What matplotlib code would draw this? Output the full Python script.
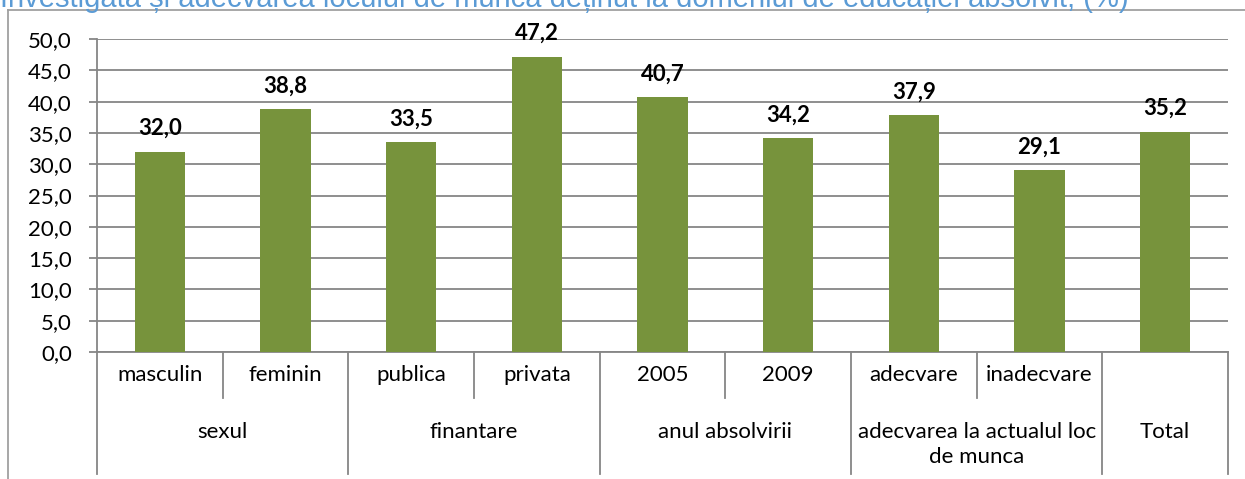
import matplotlib.pyplot as plt
from matplotlib.lines import Line2D

plt.rcParams['font.family'] = ['Lato', 'DejaVu Sans']

categories = ["masculin", "feminin", "publica", "privata", "2005", "2009",
              "adecvare", "inadecvare", ""]
groups = ["sexul", "finantare", "anul absolvirii",
          "adecvarea la actualul loc\nde munca", "Total"]
group_sizes = [2, 2, 2, 2, 1]
values = [32.0, 38.8, 33.5, 47.2, 40.7, 34.2, 37.9, 29.1, 35.2]

title = "Investigata și adecvarea locului de munca deținut la domeniul de educației absolvit, (%)"

GRID = "#868686"
BAR = "#77933C"
FS = 16

fig = plt.figure(figsize=(12.45, 4.79), dpi=100)
ax = fig.add_axes([97 / 1245, 1 - 352 / 479, (1228 - 97) / 1245, (352 - 39) / 479])

x = list(range(len(values)))
bars = ax.bar(x, values, width=0.4, color=BAR, zorder=3)
for b, v in zip(bars, values):
    ax.annotate(f"{v:.1f}".replace(".", ","), (b.get_x() + b.get_width() / 2, v),
                xytext=(0, 9), textcoords="offset points", ha="center", va="bottom",
                fontsize=FS, fontweight="bold", color="black")

ax.set_xlim(-0.5, len(values) - 0.5)
ax.set_ylim(0, 50)
ax.set_yticks([i * 5 for i in range(11)])
ax.set_yticklabels([f"{i * 5:.1f}".replace(".", ",") for i in range(11)], fontsize=FS)
ax.yaxis.grid(True, color=GRID, linewidth=1.3, zorder=0)
ax.tick_params(axis="y", length=6, color=GRID, width=1.3, pad=12)
ax.tick_params(axis="x", bottom=False, labelbottom=False)
for side in ["top", "right"]:
    ax.spines[side].set_visible(False)
ax.spines["left"].set_color(GRID)
ax.spines["left"].set_linewidth(1.3)
ax.spines["bottom"].set_color(GRID)
ax.spines["bottom"].set_linewidth(1.3)

# two-level category axis below the plot
tr = ax.get_xaxis_transform()
px = 1 / (352 - 39)
y_lvl1 = -46 * px
y_lvl2 = -122 * px


def vline(xd, y1):
    ax.add_line(Line2D([xd, xd], [0, y1], transform=tr, color=GRID,
                       linewidth=1.3, clip_on=False))


edge = -0.5
vline(edge, y_lvl2)
for size, name in zip(group_sizes, groups):
    for k in range(size):
        pos = edge + 0.5 + k
        if categories[int(pos)]:
            ax.text(pos, -23 * px, categories[int(pos)], transform=tr,
                    ha="center", va="center", fontsize=FS)
        if k < size - 1:
            vline(edge + k + 1, y_lvl1)
    mid = edge + size / 2
    ax.text(mid, -70 * px, name, transform=tr, ha="center", va="top",
            fontsize=FS, linespacing=1.3)
    edge += size
    vline(edge, y_lvl2)

# outer frame of the chart, cut off on the right and bottom
fig.add_artist(Line2D([8 / 1245, 8 / 1245], [0, 1 - 10 / 479], color="#a0a0a0",
                      linewidth=1.3, transform=fig.transFigure))
fig.add_artist(Line2D([8 / 1245, 1], [1 - 10 / 479, 1 - 10 / 479], color="#a0a0a0",
                      linewidth=1.3, transform=fig.transFigure))

fig.text(0, 1 - 7 / 479, title, ha="left", va="baseline", fontsize=21,
         color="#5B9BD5", family=["Liberation Sans", "DejaVu Sans"])

fig.savefig("out.png", dpi=100)
